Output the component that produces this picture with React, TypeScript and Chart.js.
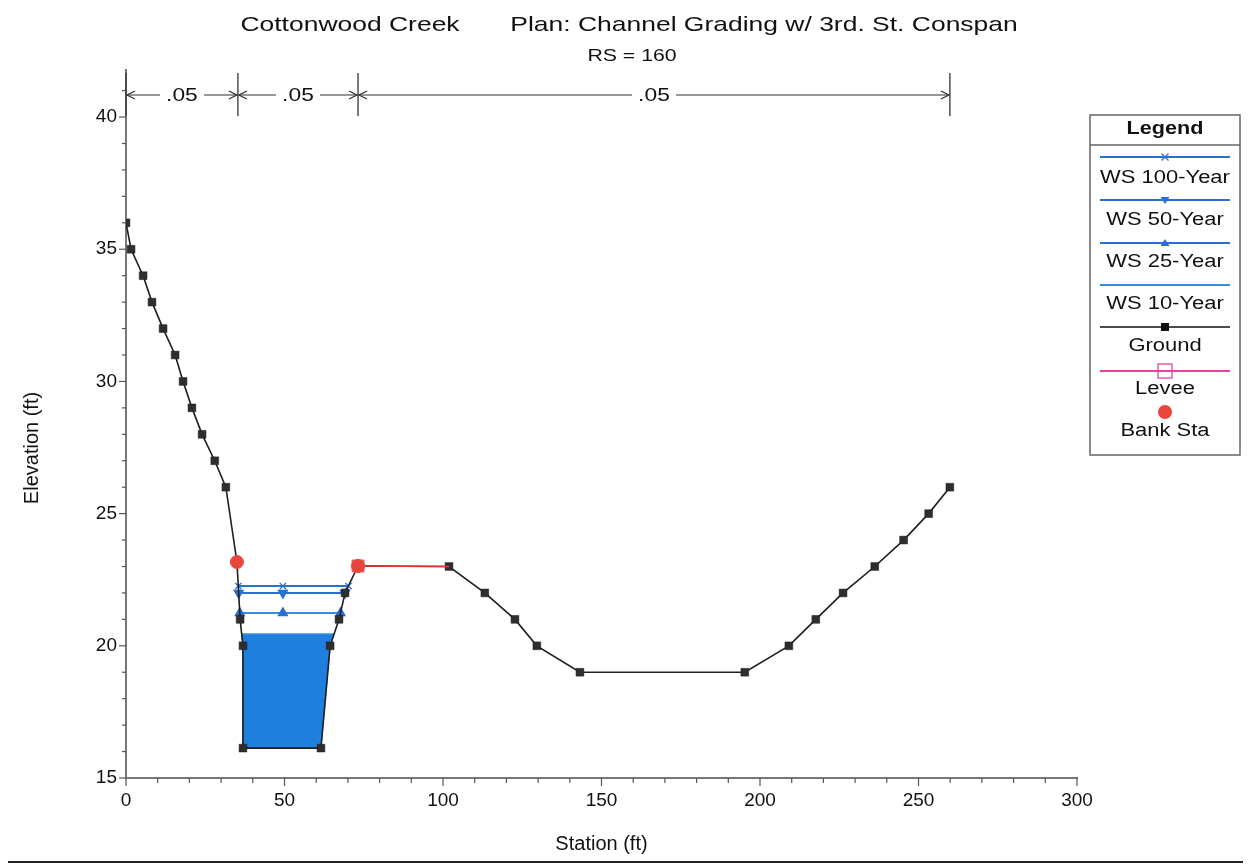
import React, { useEffect, useRef } from 'react';
import { Chart, registerables } from 'chart.js';
Chart.register(...registerables);

// ---- data ----
const groundStation = [0, 1.6, 5.4, 8.2, 11.7, 15.5, 18, 20.8, 24, 28, 31.5, 35, 36, 36.9, 36.9, 61.5, 64.4, 67.2, 69.1, 73.2, 101.9, 113.2, 122.7, 129.6, 143.2, 195.2, 209.1, 217.6, 226.2, 236.2, 245.3, 253.2, 259.9];
const groundElev = [36, 35, 34, 33, 32, 31, 30, 29, 28, 27, 26, 23.17, 21, 20, 16.13, 16.13, 20, 21, 22, 23.02, 23, 22, 21, 20, 19, 19, 20, 21, 22, 23, 24, 25, 26];

const ws100Station = [35.42, 49.5, 70.17];
const ws100Elev = [22.26, 22.26, 22.26];
const ws50Station = [35.54, 49.5, 69.1];
const ws50Elev = [22.0, 22.0, 22.0];
const ws25Station = [35.9, 49.5, 67.66];
const ws25Elev = [21.24, 21.24, 21.24];
const ws10Station = [36.5, 65.66];
const ws10Elev = [20.45, 20.45];

const leveeStation = [73.2];
const leveeElev = [23.02];
const bankStation = [35, 73.2];
const bankElev = [23.17, 23.02];
const redLineStation = [73.2, 101.9];
const redLineElev = [23.02, 23.0];

const nStations = [0, 35.3, 73.2, 259.9];
const nValues = ['.05', '.05', '.05'];

const xTickValues = [0, 50, 100, 150, 200, 250, 300];
const yTickValues = [15, 20, 25, 30, 35, 40];

const legendItems = ['WS 100-Year', 'WS 50-Year', 'WS 25-Year', 'WS 10-Year', 'Ground', 'Levee', 'Bank Sta'];

const zip = (xs: number[], ys: number[]) => xs.map((x, i) => ({ x, y: ys[i] }));

// water fill polygon (ground below WS 10-year, between its edges)
const fillPts = (() => {
  const pts = [{ x: ws10Station[0], y: ws10Elev[0] }];
  groundStation.forEach((s, i) => {
    if (s > ws10Station[0] && s < ws10Station[1] && groundElev[i] < ws10Elev[0]) pts.push({ x: s, y: groundElev[i] });
  });
  pts.push({ x: ws10Station[1], y: ws10Elev[1] });
  return pts;
})();

const FONT = '"Liberation Sans", Arial, sans-serif';
const SX = 1.2;
const BLUE = '#2b6fd0';
const BLUE_L = '#3a8ce2';
const RED = '#e8453c';
const PINK = '#e0469a';

function stext(ctx: CanvasRenderingContext2D, s: string, x: number, y: number, size: number, bold = false, sx = SX, rot = 0) {
  ctx.save();
  ctx.font = `${bold ? 'bold ' : ''}${size}px ${FONT}`;
  ctx.textAlign = 'center';
  ctx.textBaseline = 'middle';
  ctx.fillStyle = '#111';
  ctx.translate(x, y);
  ctx.rotate(rot);
  ctx.scale(sx, 1);
  ctx.fillText(s, 0, 0);
  ctx.restore();
}

function marker(ctx: CanvasRenderingContext2D, kind: string, x: number, y: number, color: string) {
  ctx.save();
  ctx.strokeStyle = color;
  ctx.fillStyle = color;
  ctx.lineWidth = 1.3;
  ctx.beginPath();
  if (kind === 'x') {
    ctx.moveTo(x - 3.5, y - 3.5); ctx.lineTo(x + 3.5, y + 3.5);
    ctx.moveTo(x + 3.5, y - 3.5); ctx.lineTo(x - 3.5, y + 3.5);
    ctx.stroke();
  } else if (kind === 'tdown') {
    ctx.moveTo(x - 4.5, y - 3); ctx.lineTo(x + 4.5, y - 3); ctx.lineTo(x, y + 4); ctx.closePath(); ctx.fill();
  } else if (kind === 'tup') {
    ctx.moveTo(x - 4.5, y + 3); ctx.lineTo(x + 4.5, y + 3); ctx.lineTo(x, y - 4); ctx.closePath(); ctx.fill();
  } else if (kind === 'sq') {
    ctx.fillRect(x - 4, y - 4, 8, 8);
  } else if (kind === 'osq') {
    ctx.strokeRect(x - 7, y - 7, 14, 14);
  } else if (kind === 'dot') {
    ctx.arc(x, y, 7, 0, Math.PI * 2); ctx.fill();
  }
  ctx.restore();
}

const decoPlugin = {
  id: 'deco',
  afterDraw(chart: any) {
    const ctx: CanvasRenderingContext2D = chart.ctx;
    const xs = chart.scales.x;
    const ys = chart.scales.y;
    const area = chart.chartArea;

    // frame lines
    ctx.save();
    ctx.fillStyle = '#222';
    ctx.fillRect(5, 0, 3, 864);
    ctx.fillRect(1247, 0, 3, 864);
    ctx.fillRect(5, 861, 1245, 2);
    ctx.restore();

    // titles
    stext(ctx, 'Cottonwood Creek', 350, 25, 21, false, 1.26);
    stext(ctx, 'Plan: Channel Grading w/ 3rd. St. Conspan', 764, 25, 21, false, 1.26);
    stext(ctx, 'RS = 160', 632, 56, 17, false, 1.25);

    // y axis title
    stext(ctx, 'Elevation (ft)', 32, 448, 20, false, 1, -Math.PI / 2);

    // tick marks
    ctx.save();
    ctx.strokeStyle = '#555';
    ctx.lineWidth = 1.2;
    for (let v = 15; v <= 41; v++) {
      const py = ys.getPixelForValue(v);
      const len = v % 5 === 0 ? 7 : 4;
      ctx.beginPath(); ctx.moveTo(area.left - len, py); ctx.lineTo(area.left, py); ctx.stroke();
    }
    for (let v = 0; v <= 300; v += 10) {
      const px = xs.getPixelForValue(v);
      const len = v % 50 === 0 ? 8 : 5;
      ctx.beginPath(); ctx.moveTo(px, area.bottom); ctx.lineTo(px, area.bottom + len); ctx.stroke();
    }
    ctx.restore();

    // Manning's n
    const ay = area.top + 25;
    ctx.save();
    ctx.lineWidth = 1.3;
    nStations.forEach((s) => {
      const px = xs.getPixelForValue(s);
      ctx.strokeStyle = '#333';
      ctx.beginPath(); ctx.moveTo(px, area.top + 3); ctx.lineTo(px, area.top + 46); ctx.stroke();
    });
    for (let i = 0; i < nValues.length; i++) {
      const a = xs.getPixelForValue(nStations[i]);
      const b = xs.getPixelForValue(nStations[i + 1]);
      const mid = (a + b) / 2;
      const half = 22;
      ctx.strokeStyle = '#777';
      ctx.beginPath();
      ctx.moveTo(a + 1, ay); ctx.lineTo(mid - half, ay);
      ctx.moveTo(mid + half, ay); ctx.lineTo(b - 1, ay);
      ctx.stroke();
      ctx.strokeStyle = '#333';
      ctx.beginPath();
      ctx.moveTo(a + 9, ay - 4); ctx.lineTo(a + 1, ay); ctx.lineTo(a + 9, ay + 4);
      ctx.moveTo(b - 9, ay - 4); ctx.lineTo(b - 1, ay); ctx.lineTo(b - 9, ay + 4);
      ctx.stroke();
      stext(ctx, nValues[i], mid, ay + 1, 19);
    }
    ctx.restore();

    // legend box
    const L = 1090, R = 1240, T = 115, B = 455;
    const cx = (L + R) / 2;
    ctx.save();
    ctx.strokeStyle = '#666';
    ctx.lineWidth = 1.5;
    ctx.strokeRect(L, T, R - L, B - T);
    ctx.beginPath(); ctx.moveTo(L, 145); ctx.lineTo(R, 145); ctx.stroke();
    ctx.restore();
    stext(ctx, 'Legend', cx, 129, 18, true);
    const lineYs = [157, 200, 243, 285, 327, 371];
    const textYs = [178, 220, 262, 304, 346, 389, 431];
    const colors = [BLUE, BLUE, BLUE, BLUE_L, '#111', PINK];
    const kinds = ['x', 'tdown', 'tup', '', 'sq', 'osq'];
    lineYs.forEach((ly, i) => {
      ctx.save();
      ctx.strokeStyle = colors[i];
      ctx.lineWidth = i === 4 ? 1.5 : 2;
      ctx.beginPath(); ctx.moveTo(1100, ly); ctx.lineTo(1230, ly); ctx.stroke();
      ctx.restore();
      if (kinds[i]) marker(ctx, kinds[i], cx, ly, colors[i]);
    });
    marker(ctx, 'dot', cx, 412, RED);
    legendItems.forEach((t, i) => stext(ctx, t, cx, textYs[i], 18, false, 1.22));
  },
};

export default function App() {
  const ref = useRef<HTMLCanvasElement | null>(null);
  useEffect(() => {
    if (!ref.current) return;
    const chart = new Chart(ref.current, {
      type: 'scatter',
      data: {
        datasets: [
          {
            label: 'Bank Sta', data: zip(bankStation, bankElev), showLine: false,
            pointStyle: 'circle', pointRadius: 6.5, pointBackgroundColor: RED, pointBorderColor: RED, order: 0,
          },
          {
            label: 'Levee', data: zip(leveeStation, leveeElev), showLine: false,
            pointStyle: 'rect', pointRadius: 8.5, pointBackgroundColor: RED, pointBorderColor: '#f07070', pointBorderWidth: 1, order: 1,
          },
          {
            label: 'Levee line', data: zip(redLineStation, redLineElev), showLine: true,
            borderColor: '#e8352b', borderWidth: 1.5, pointRadius: 0, order: 2,
          },
          {
            label: 'Ground', data: zip(groundStation, groundElev), showLine: true,
            borderColor: '#1e1e1e', borderWidth: 1.6, pointStyle: 'rect', pointRadius: 5.5,
            pointBackgroundColor: '#2e2e2e', pointBorderColor: '#1a1a1a', pointBorderWidth: 0.5, order: 3,
          },
          {
            label: 'WS 100-Year', data: zip(ws100Station, ws100Elev), showLine: true,
            borderColor: BLUE, borderWidth: 2, pointStyle: 'crossRot', pointRadius: 4.5, pointBorderColor: BLUE, pointBorderWidth: 1.3, order: 4,
          },
          {
            label: 'WS 50-Year', data: zip(ws50Station, ws50Elev), showLine: true,
            borderColor: BLUE, borderWidth: 2, pointStyle: 'triangle', rotation: 180, pointRadius: 4.5,
            pointBackgroundColor: BLUE, pointBorderColor: BLUE, order: 5,
          },
          {
            label: 'WS 25-Year', data: zip(ws25Station, ws25Elev), showLine: true,
            borderColor: BLUE_L, borderWidth: 2, pointStyle: 'triangle', pointRadius: 4.5,
            pointBackgroundColor: BLUE, pointBorderColor: BLUE, order: 6,
          },
          {
            label: 'WS 10-Year', data: zip(ws10Station, ws10Elev), showLine: true,
            borderColor: BLUE_L, borderWidth: 1.5, pointRadius: 0, order: 7,
          },
          {
            label: 'WS 10-Year fill', data: fillPts, showLine: true,
            borderColor: '#1f7fde', borderWidth: 1, pointRadius: 0,
            backgroundColor: '#1f7fde', fill: { value: ws10Elev[0] }, order: 8,
          },
        ],
      },
      options: {
        animation: false,
        responsive: false,
        maintainAspectRatio: false,
        layout: { padding: { left: 0, right: 174, top: 70, bottom: 0 } },
        plugins: { legend: { display: false }, tooltip: { enabled: false }, title: { display: false } },
        elements: { line: { tension: 0 } },
        scales: {
          x: {
            type: 'linear', min: 0, max: 300,
            afterBuildTicks: (s: any) => { s.ticks = xTickValues.map((v) => ({ value: v })); },
            afterFit: (s: any) => { s.height = 89; },
            grid: { display: false, drawTicks: false },
            border: { display: true, color: '#777', width: 2 },
            ticks: { padding: 11, color: '#111', font: { family: FONT, size: 19 }, maxRotation: 0 },
            title: { display: true, text: 'Station (ft)', color: '#111', font: { family: FONT, size: 20 }, padding: { top: 0, bottom: 11 } },
          },
          y: {
            type: 'linear', min: 15, max: 41.78,
            afterBuildTicks: (s: any) => { s.ticks = yTickValues.map((v) => ({ value: v })); },
            afterFit: (s: any) => { s.width = 126; },
            grid: { display: false, drawTicks: false },
            border: { display: true, color: '#777', width: 2 },
            ticks: { padding: 9, color: '#111', font: { family: FONT, size: 19 } },
            title: { display: false, text: 'Elevation (ft)' },
          },
        },
      },
      plugins: [decoPlugin],
    } as any);
    return () => chart.destroy();
  }, []);
  return (
    <div style={{ position: 'relative', width: 1251, height: 867, margin: '-8px 0 0 -8px', background: '#fff', overflow: 'hidden' }}>
      <canvas ref={ref} width={1251} height={867} style={{ display: 'block', width: 1251, height: 867 }} />
    </div>
  );
}
